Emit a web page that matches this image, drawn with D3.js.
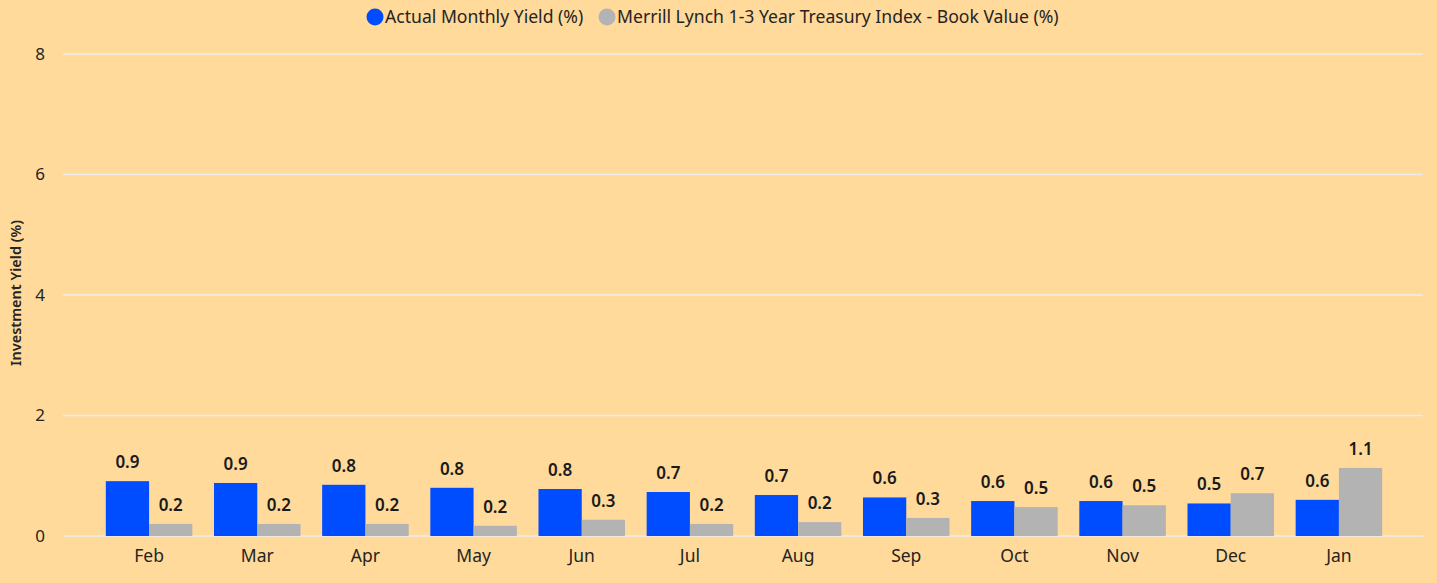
<!DOCTYPE html>
<html>
<head>
<meta charset="utf-8">
<script src="https://cdn.jsdelivr.net/npm/d3@7"></script>
<style>
    body { margin: 0; background: #ffda9b; }
    svg { display: block; font-family: "Noto Sans", "Open Sans", sans-serif; }
</style>
</head>
<body>
<svg id="chart" width="1437" height="583"></svg>
<script>
var months = ["Feb", "Mar", "Apr", "May", "Jun", "Jul", "Aug", "Sep", "Oct", "Nov", "Dec", "Jan"];
var actualYield = [0.91, 0.88, 0.85, 0.80, 0.78, 0.73, 0.68, 0.64, 0.58, 0.58, 0.54, 0.60];
var merrillYield = [0.20, 0.20, 0.20, 0.17, 0.27, 0.20, 0.23, 0.30, 0.48, 0.51, 0.71, 1.13];
var seriesNames = ["Actual Monthly Yield (%)", "Merrill Lynch 1-3 Year Treasury Index - Book Value (%)"];
var seriesColors = ["#004cff", "#b3b3b3"];
var yTicks = [0, 2, 4, 6, 8];

var svg = d3.select("#chart");

var x = d3.scaleBand()
    .domain(months)
    .range([95, 1393])
    .paddingInner(0.2)
    .paddingOuter(0.1);

var xSub = d3.scaleBand()
    .domain([0, 1])
    .range([0, x.bandwidth()]);

var y = d3.scaleLinear()
    .domain([0, 8])
    .range([536, 54]);

// gridlines
svg.append("g")
    .selectAll("line")
    .data(yTicks)
    .enter().append("line")
    .attr("x1", 63)
    .attr("x2", 1423)
    .attr("y1", function (d) { return y(d); })
    .attr("y2", function (d) { return y(d); })
    .attr("stroke", "#ececec")
    .attr("stroke-width", 1.5);

// y tick labels
svg.append("g")
    .selectAll("text")
    .data(yTicks)
    .enter().append("text")
    .attr("x", 45)
    .attr("y", function (d) { return y(d); })
    .attr("dy", "0.35em")
    .attr("text-anchor", "end")
    .attr("font-size", 17)
    .attr("fill", "#252423")
    .text(function (d) { return d; });

// y axis title
svg.append("text")
    .attr("transform", "translate(21," + 293 + ") rotate(-90)")
    .attr("text-anchor", "middle")
    .attr("font-size", 14.5)
    .attr("font-weight", 600)
    .attr("fill", "#252423")
    .text("Investment Yield (%)");

// x tick labels
svg.append("g")
    .selectAll("text")
    .data(months)
    .enter().append("text")
    .attr("x", function (d) { return x(d) + x.bandwidth() / 2; })
    .attr("y", 562)
    .attr("text-anchor", "middle")
    .attr("font-size", 17.5)
    .attr("fill", "#252423")
    .text(function (d) { return d; });

var rows = months.map(function (m, i) {
    return { month: m, values: [actualYield[i], merrillYield[i]] };
});

var groups = svg.append("g")
    .selectAll("g")
    .data(rows)
    .enter().append("g")
    .attr("transform", function (d) { return "translate(" + x(d.month) + ",0)"; });

groups.selectAll("rect")
    .data(function (d) { return d.values; })
    .enter().append("rect")
    .attr("x", function (d, i) { return xSub(i); })
    .attr("width", xSub.bandwidth())
    .attr("y", function (d) { return y(d); })
    .attr("height", function (d) { return y(0) - y(d); })
    .attr("fill", function (d, i) { return seriesColors[i]; });

groups.selectAll("text")
    .data(function (d) { return d.values; })
    .enter().append("text")
    .attr("x", function (d, i) { return xSub(i) + xSub.bandwidth() / 2; })
    .attr("y", function (d) { return y(d) - 13; })
    .attr("text-anchor", "middle")
    .attr("font-size", 17)
    .attr("font-weight", 600)
    .attr("fill", "#1a1a1a")
    .text(function (d) { return d3.format(".1f")(d); });

// legend
var legend = svg.append("g");
var legendX = [375, 607];
seriesNames.forEach(function (name, i) {
    legend.append("circle")
        .attr("cx", legendX[i])
        .attr("cy", 17)
        .attr("r", 8.5)
        .attr("fill", seriesColors[i]);
    legend.append("text")
        .attr("x", legendX[i] + 10)
        .attr("y", 17)
        .attr("dy", "0.35em")
        .attr("font-size", 17.6)
        .attr("fill", "#252423")
        .text(name);
});
</script>
</body>
</html>
